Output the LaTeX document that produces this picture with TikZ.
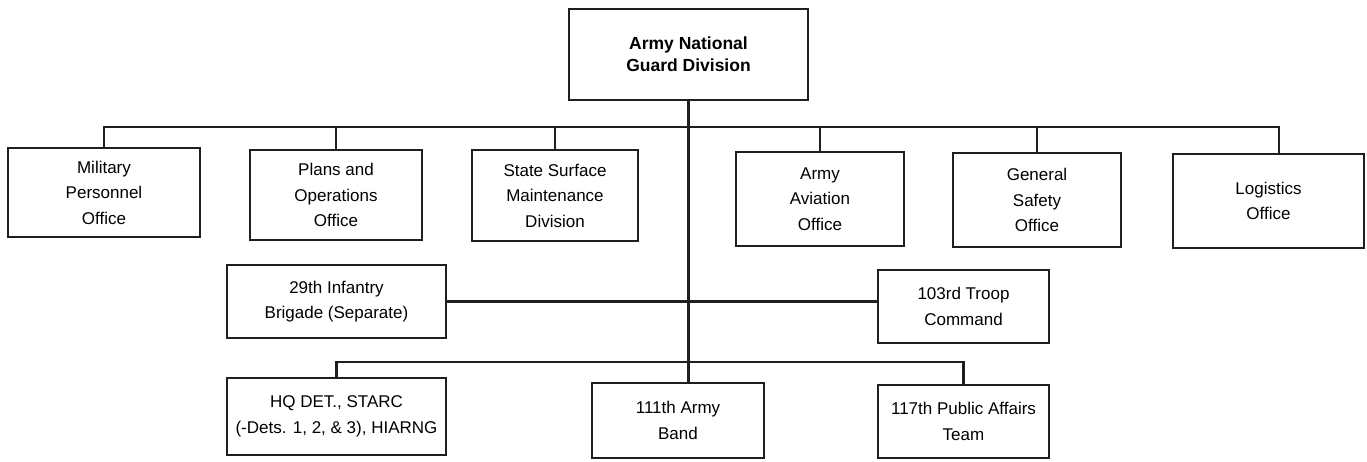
\documentclass[tikz,border=0pt]{standalone}
\usepackage{fontspec}
\setmainfont{Liberation Sans}
\begin{document}
\begin{tikzpicture}[x=1pt,y=-1pt,
  box/.style={draw=black!88, line width=2.7pt, align=center, inner sep=0pt,
    font=\fontsize{17}{25.5}\selectfont},
  titlebox/.style={box, font=\fontsize{17.5}{22}\selectfont\bfseries},
  conn/.style={draw=black!88, line width=2.3pt}]
\useasboundingbox (0,0) rectangle (1367,461);
\node[titlebox, minimum width=239pt, minimum height=91pt] (top) at (688.5,54.5) {Army National\\Guard Division};
\node[box, minimum width=192pt, minimum height=89pt] (mil) at (104,192.5) {Military\\Personnel\\Office};
\node[box, minimum width=172pt, minimum height=90pt] (plans) at (336,195) {Plans and\\Operations\\Office};
\node[box, minimum width=166pt, minimum height=91pt] (state) at (555,195.5) {State Surface\\Maintenance\\Division};
\node[box, minimum width=168pt, minimum height=94pt] (avi) at (820,199) {Army\\Aviation\\Office};
\node[box, minimum width=168pt, minimum height=94pt] (safety) at (1037,200) {General\\Safety\\Office};
\node[box, minimum width=191pt, minimum height=94pt] (log) at (1268.5,201) {Logistics\\Office};
\node[box, minimum width=219pt, minimum height=73pt] (inf) at (336.5,301.5) {29th Infantry\\Brigade (Separate)};
\node[box, minimum width=171pt, minimum height=73pt] (troop) at (963.5,306.5) {103rd Troop\\Command};
\node[box, minimum width=219pt, minimum height=77pt] (hq) at (336.5,416.5) {HQ DET., STARC\\(-Dets. 1, 2, \& 3), HIARNG};
\node[box, minimum width=172pt, minimum height=75pt] (band) at (678,420.5) {111th Army\\Band};
\node[box, minimum width=171pt, minimum height=73pt] (pa) at (963.5,421.5) {117th Public Affairs\\Team};
\coordinate (busR) at (1279,127);
\coordinate (bus3) at (650,362);
\draw[conn] (mil.north) |- (busR) -- (busR |- log.north);
\foreach \n in {plans,state,avi,safety} \draw[conn] (\n.north) -- (\n.north |- busR);
\draw[conn] (top.south) -- (top.south |- band.north);
\draw[conn] (inf.east) -- (inf.east -| troop.west);
\draw[conn] (hq.north) |- (bus3) -| (pa.north);
\end{tikzpicture}
\end{document}
